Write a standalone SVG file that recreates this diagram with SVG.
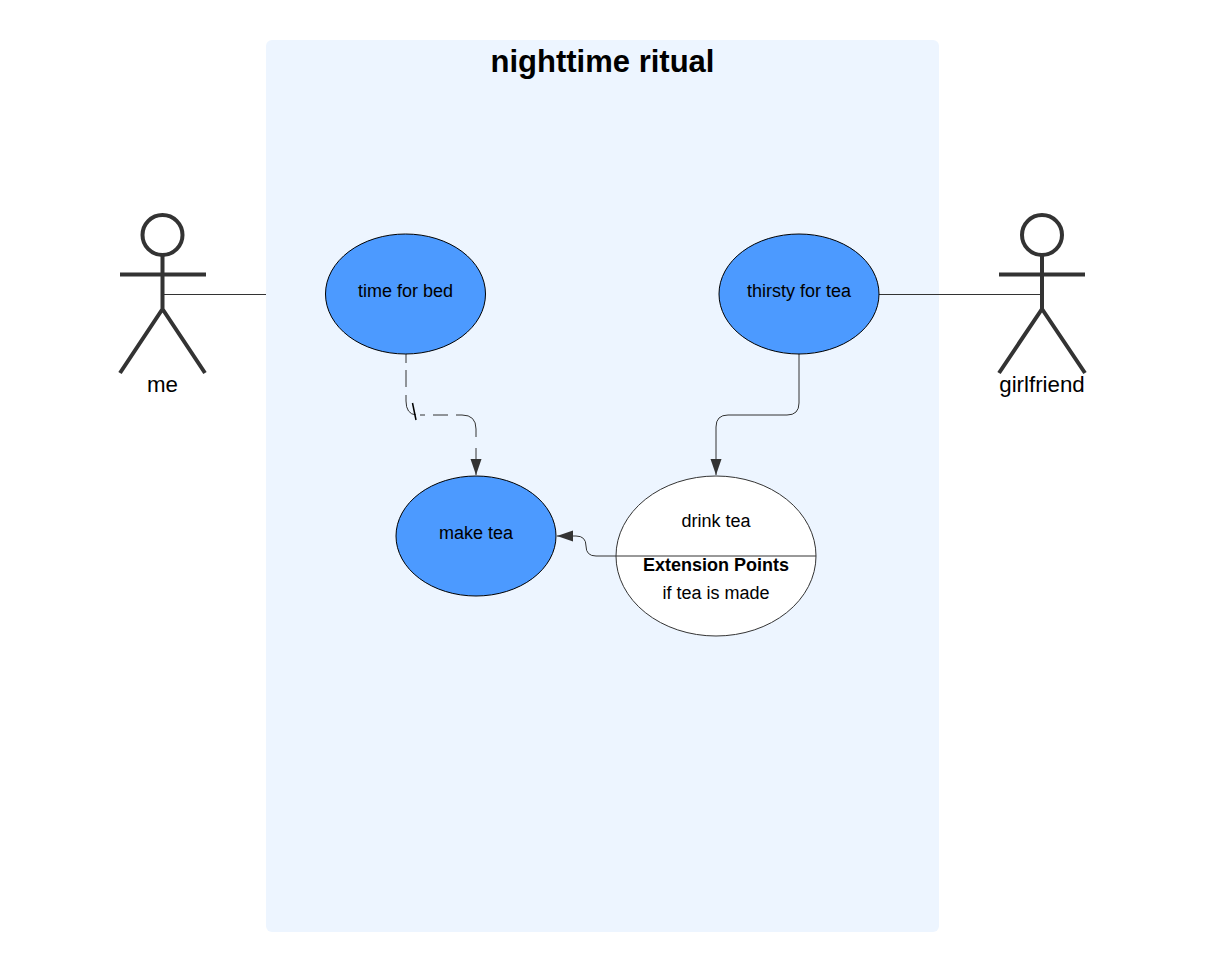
<svg xmlns="http://www.w3.org/2000/svg" width="1207" height="972" viewBox="0 0 1207 972">
<style>
text{font-family:"Liberation Sans",Arial,sans-serif;fill:#000;text-anchor:middle}
.t{font-size:18px}
.a{font-size:22.300px}
.uc{fill:#4c9aff;stroke:#000;stroke-width:1}
.fig{fill:none;stroke:#333;stroke-width:4}
.c{fill:none;stroke:#333;stroke-width:1}
</style>
<defs>
<marker id="arr" markerUnits="userSpaceOnUse" markerWidth="16" markerHeight="16" refX="16" refY="5.500" viewBox="0 0 16 11" orient="auto"><path d="M0 0L16 5.500L0 11Z" fill="#333"/></marker>
</defs>
<rect width="1207" height="972" fill="#fff"/>
<g id="boundary"><rect x="266" y="40" width="673" height="892" rx="6" fill="#edf5ff"/><text x="602.500" y="72" font-size="31px" font-weight="700">nighttime ritual</text></g>
<g id="connectors">
<path class="c" d="M163 294.500H266"/>
<path class="c" d="M879 294.500H1042"/>
<path class="c" d="M406 354V363M406 370V387M406 395V401Q406 414 416 415M420 415H425M433 415H448M456 415H462Q476 415 476 429V437M476 448V475" marker-end="url(#arr)"/>
<path d="M412.500 403L416 420" fill="none" stroke="#000" stroke-width="1.500"/>
<path class="c" d="M799 354V403Q799 415 787 415H728Q716 415 716 427V475" marker-end="url(#arr)"/>
<path class="c" d="M616 556H596Q586 556 586 546Q586 536 576 536H557" marker-end="url(#arr)"/>
</g>
<g id="actor-me"><circle class="fig" cx="162.500" cy="235" r="20"/><path class="fig" d="M162.500 255V309M120 274.500H206M120 373L162.500 309L205 373"/><text class="a" x="162.500" y="392">me</text></g>
<g id="actor-girlfriend"><circle class="fig" cx="1042" cy="235" r="20"/><path class="fig" d="M1042 255V309M999 274.500H1085M999 373L1042 309L1085 373"/><text class="a" x="1042" y="392">girlfriend</text></g>
<g id="uc-bed"><ellipse class="uc" cx="405.500" cy="294" rx="80" ry="60"/><text class="t" x="405.500" y="297">time for bed</text></g>
<g id="uc-thirsty"><ellipse class="uc" cx="799" cy="294" rx="80" ry="60"/><text class="t" x="799" y="297">thirsty for tea</text></g>
<g id="uc-make"><ellipse class="uc" cx="476" cy="536" rx="80" ry="60"/><text class="t" x="476" y="539">make tea</text></g>
<g id="uc-drink"><ellipse cx="716" cy="556" rx="100" ry="80" fill="#fff" stroke="#333"/><path d="M616 556H816" stroke="#333"/><text class="t" x="716" y="527">drink tea</text><text class="t" x="716" y="571" font-weight="700">Extension Points</text><text class="t" x="716" y="599">if tea is made</text></g>
</svg>
